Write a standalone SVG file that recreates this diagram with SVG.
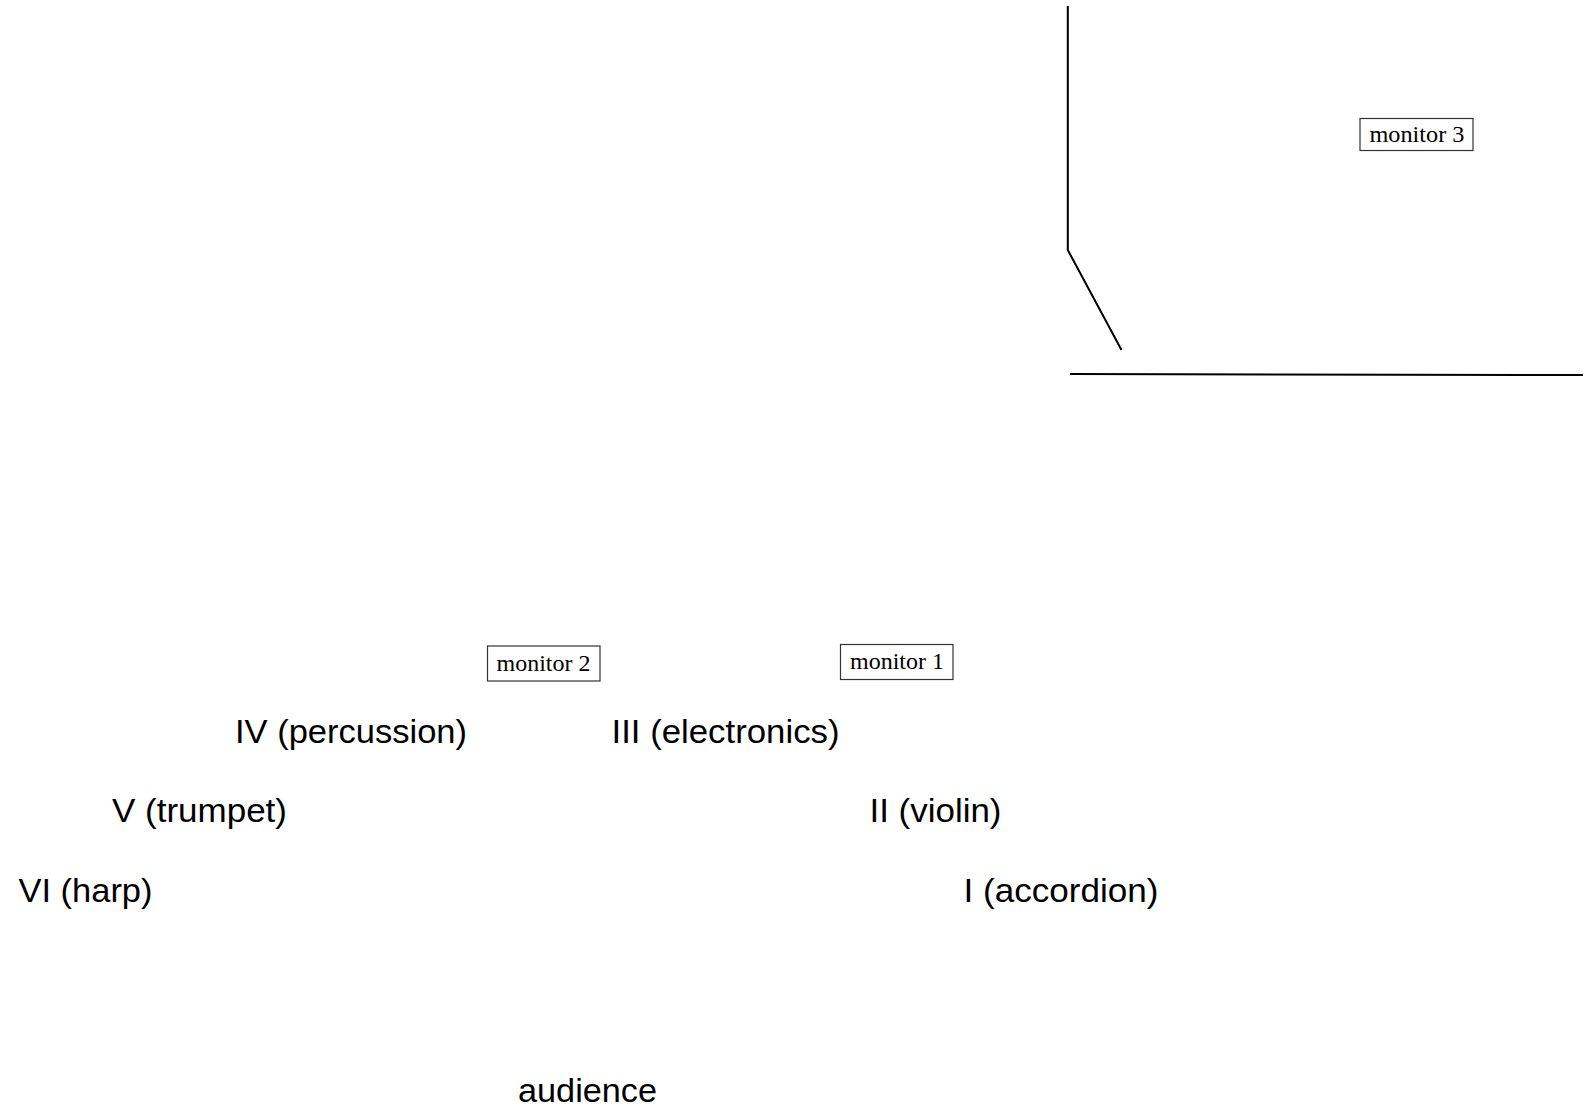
<svg xmlns="http://www.w3.org/2000/svg" width="1593" height="1109" viewBox="0 0 1593 1109">
<style>
.sans{font-family:"Liberation Sans",Arial,sans-serif;font-size:33px;fill:#000}
.serif{font-family:"Liberation Serif","Times New Roman",serif;font-size:23px;fill:#000}
.box{fill:#fff;stroke:#333;stroke-width:1.2}
.wall{fill:none;stroke:#000;stroke-width:2}
</style>
<rect width="1593" height="1109" fill="#fff"/>
<g id="connectors">
<polyline class="wall" points="1067.8,6 1067.8,250 1121.5,350"/>
<line class="wall" x1="1070" y1="374" x2="1583" y2="375"/>
</g>
<g id="monitor3"><rect class="box" x="1360" y="118.5" width="113" height="32"/><text class="serif" x="1369.5" y="141.5" textLength="95" lengthAdjust="spacingAndGlyphs">monitor 3</text></g>
<g id="monitor2"><rect class="box" x="487.5" y="646" width="112.5" height="35"/><text class="serif" x="496.5" y="670.5" textLength="94" lengthAdjust="spacingAndGlyphs">monitor 2</text></g>
<g id="monitor1"><rect class="box" x="840.5" y="644.5" width="112.5" height="35"/><text class="serif" x="850" y="669" textLength="94" lengthAdjust="spacingAndGlyphs">monitor 1</text></g>
<g id="percussion"><text class="sans" x="235" y="742.5" textLength="232" lengthAdjust="spacingAndGlyphs">IV (percussion)</text></g>
<g id="electronics"><text class="sans" x="611.5" y="742.5" textLength="228" lengthAdjust="spacingAndGlyphs">III (electronics)</text></g>
<g id="trumpet"><text class="sans" x="112" y="822" textLength="175" lengthAdjust="spacingAndGlyphs">V (trumpet)</text></g>
<g id="violin"><text class="sans" x="869.5" y="822" textLength="132" lengthAdjust="spacingAndGlyphs">II (violin)</text></g>
<g id="harp"><text class="sans" x="18.5" y="901.5" textLength="134" lengthAdjust="spacingAndGlyphs">VI (harp)</text></g>
<g id="accordion"><text class="sans" x="963.5" y="901.5" textLength="195" lengthAdjust="spacingAndGlyphs">I (accordion)</text></g>
<g id="audience"><text class="sans" x="518" y="1101.5" textLength="139" lengthAdjust="spacingAndGlyphs">audience</text></g>
</svg>
